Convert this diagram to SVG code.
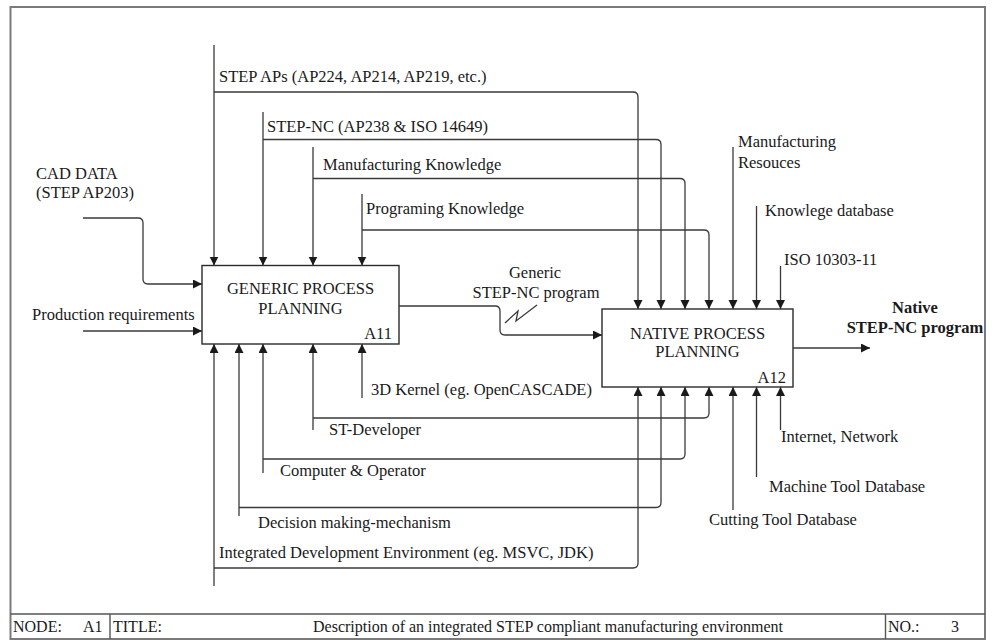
<svg xmlns="http://www.w3.org/2000/svg" width="993" height="640" viewBox="0 0 993 640">
  <style>
    text { font-family: "Liberation Serif", "Times New Roman", serif; font-size: 16.5px; fill: #1a1a1a; }
    .title { font-size: 16px; }
    .bold { font-weight: bold; }
    .box { fill: #ffffff; stroke: #2a2a2a; stroke-width: 1.4; }
    .frame { fill: none; stroke: #7a7a7a; stroke-width: 2; }
    .cell { fill: none; stroke: #555555; stroke-width: 1.4; }
    .conn { fill: none; stroke: #3a3a3a; stroke-width: 1.3; }
    .arrow { marker-end: url(#ah); }
  </style>
  <defs>
    <marker id="ah" markerWidth="10" markerHeight="10" refX="9" refY="4.5" orient="auto" markerUnits="userSpaceOnUse">
      <path d="M0,0 L9,4.5 L0,9 z" fill="#1a1a1a"/>
    </marker>
  </defs>

  <rect width="993" height="640" fill="#ffffff"/>

  <!-- drawing frame and title block -->
  <g id="frame">
    <rect class="frame" x="10.5" y="7" width="974.5" height="632"/>
    <line class="cell" x1="10.5" y1="614" x2="985" y2="614"/>
    <line class="cell" x1="110" y1="614" x2="110" y2="639"/>
    <line class="cell" x1="885.5" y1="614" x2="885.5" y2="639"/>
    <text class="title" x="13" y="632">NODE:</text>
    <text class="title" x="83" y="632">A1</text>
    <text class="title" x="113" y="632">TITLE:</text>
    <text class="title" x="548" y="632" text-anchor="middle">Description of an integrated STEP compliant manufacturing environment</text>
    <text class="title" x="888" y="632">NO.:</text>
    <text class="title" x="951" y="632">3</text>
  </g>

  <!-- activity boxes -->
  <g id="A11">
    <rect class="box" x="202" y="265.5" width="197" height="78.5"/>
    <text x="300.5" y="294" text-anchor="middle">GENERIC PROCESS</text>
    <text x="300.5" y="314" text-anchor="middle">PLANNING</text>
    <text x="392" y="338.5" text-anchor="end">A11</text>
  </g>
  <g id="A12">
    <rect class="box" x="602" y="309" width="191" height="78"/>
    <text x="697.5" y="338.5" text-anchor="middle">NATIVE PROCESS</text>
    <text x="697.5" y="357" text-anchor="middle">PLANNING</text>
    <text x="786" y="382.5" text-anchor="end">A12</text>
  </g>

  <!-- arrows -->
  <g id="connectors">
    <!-- inputs -->
    <path class="conn arrow" d="M83,218 H138 Q143,218 143,223 V279 Q143,284 148,284 H202"/>
    <path class="conn arrow" d="M83,331 H202"/>
    <path class="conn arrow" d="M399,306 H495 Q500,306 500,311 V330 Q500,335 505,335 H602"/>
    <path class="conn" d="M505,323 L518,311 L516,321 L537,305"/>
    <path class="conn arrow" d="M793,348 H870"/>

    <!-- controls -->
    <path class="conn arrow" d="M214,45 V265.5"/>
    <path class="conn arrow" d="M214,92 H633 Q638,92 638,97 V309"/>
    <path class="conn arrow" d="M263,112 V265.5"/>
    <path class="conn arrow" d="M263,139.5 H656 Q661,139.5 661,144.5 V309"/>
    <path class="conn arrow" d="M313,147 V265.5"/>
    <path class="conn arrow" d="M313,178.5 H680 Q685,178.5 685,183.5 V309"/>
    <path class="conn arrow" d="M362,194 V265.5"/>
    <path class="conn arrow" d="M362,230 H704 Q709,230 709,235 V309"/>
    <path class="conn arrow" d="M733,147 V309"/>
    <path class="conn arrow" d="M756.5,206 V309"/>
    <path class="conn arrow" d="M780.5,266 V309"/>

    <!-- mechanisms -->
    <path class="conn arrow" d="M214,586 V344"/>
    <path class="conn arrow" d="M214,568 H633 Q638,568 638,563 V387"/>
    <path class="conn arrow" d="M239,516 V344"/>
    <path class="conn arrow" d="M239,507.5 H656 Q661,507.5 661,502.5 V387"/>
    <path class="conn arrow" d="M263,473 V344"/>
    <path class="conn arrow" d="M263,459 H680 Q685,459 685,454 V387"/>
    <path class="conn arrow" d="M313,430 V344"/>
    <path class="conn arrow" d="M313,418 H704 Q709,418 709,413 V387"/>
    <path class="conn arrow" d="M362,398 V344"/>
    <path class="conn arrow" d="M733,510 V387"/>
    <path class="conn arrow" d="M756.5,477 V387"/>
    <path class="conn arrow" d="M780.5,430 V387"/>
  </g>

  <!-- arrow labels -->
  <g id="labels">
    <text x="36" y="179">CAD DATA</text>
    <text x="36" y="198">(STEP AP203)</text>
    <text x="32" y="320">Production requirements</text>
    <text x="219" y="82">STEP APs (AP224, AP214, AP219, etc.)</text>
    <text x="267" y="132">STEP-NC (AP238 &amp; ISO 14649)</text>
    <text x="323" y="170">Manufacturing Knowledge</text>
    <text x="366" y="214">Programing Knowledge</text>
    <text x="535" y="278" text-anchor="middle">Generic</text>
    <text x="536" y="298" text-anchor="middle">STEP-NC program</text>
    <text x="738" y="147">Manufacturing</text>
    <text x="738" y="168">Resouces</text>
    <text x="765" y="216">Knowlege database</text>
    <text x="784" y="265">ISO 10303-11</text>
    <text class="bold" x="915" y="313" text-anchor="middle">Native</text>
    <text class="bold" x="915" y="333" text-anchor="middle">STEP-NC program</text>
    <text x="371" y="395">3D Kernel (eg. OpenCASCADE)</text>
    <text x="329" y="435">ST-Developer</text>
    <text x="280" y="476">Computer &amp; Operator</text>
    <text x="258" y="528">Decision making-mechanism</text>
    <text x="219" y="558">Integrated Development Environment (eg. MSVC, JDK)</text>
    <text x="781" y="442">Internet, Network</text>
    <text x="769" y="492">Machine Tool Database</text>
    <text x="709" y="525">Cutting Tool Database</text>
  </g>
</svg>
